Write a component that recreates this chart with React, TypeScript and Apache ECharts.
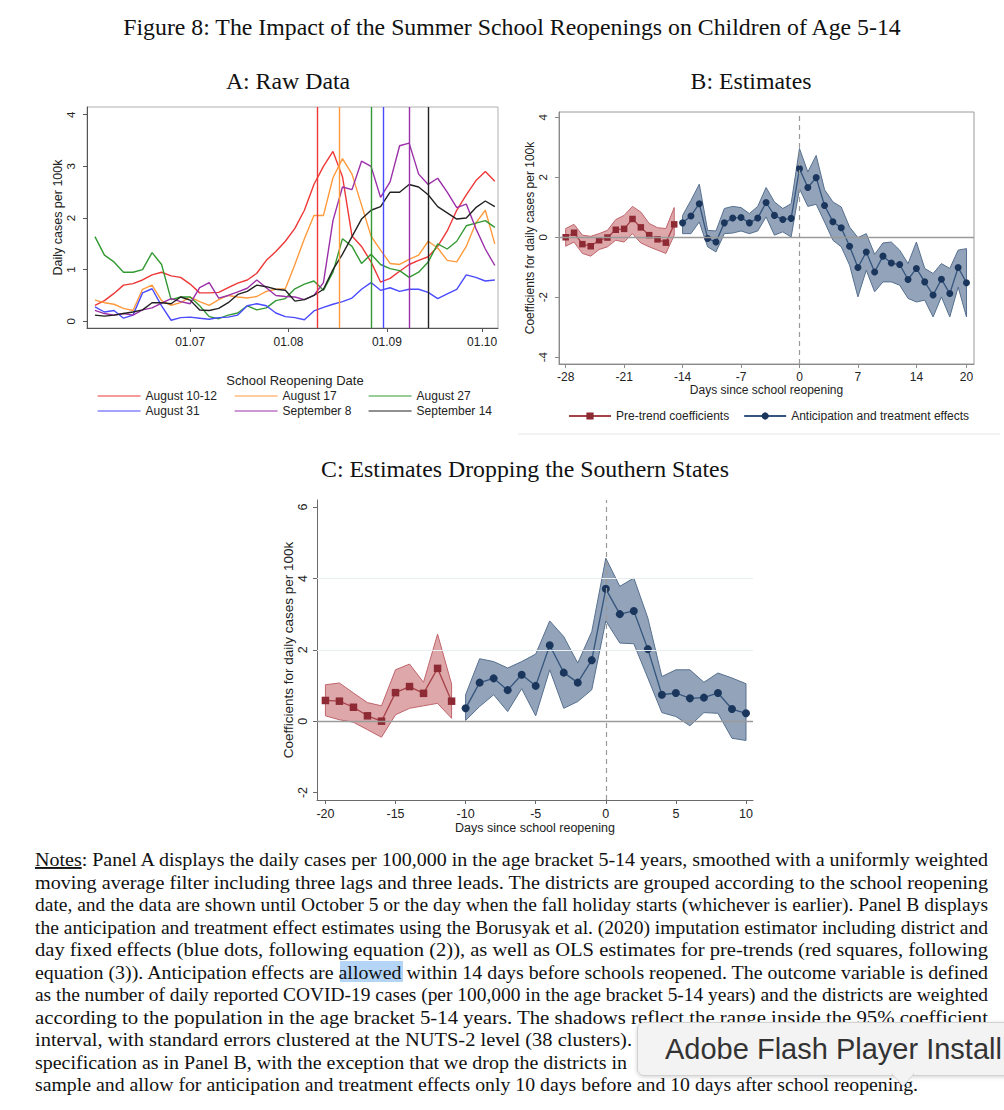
import React, { useEffect, useRef } from "react";
import * as echarts from "echarts";

// ---------- Panel A: raw data (days since June 1, every 3 days) ----------
const aDays = [0, 3, 6, 9, 12, 15, 18, 21, 24, 27, 30, 33, 36, 39, 42, 45, 48, 51, 54, 57, 60, 63, 66, 69, 72, 75, 78, 81, 84, 87, 90, 93, 96, 99, 102, 105, 108, 111, 114, 117, 120, 123, 126];
const aAug10 = [0.31, 0.40, 0.54, 0.70, 0.73, 0.80, 0.90, 0.95, 0.88, 0.85, 0.72, 0.55, 0.55, 0.56, 0.65, 0.74, 0.80, 0.93, 1.18, 1.35, 1.55, 1.80, 2.15, 2.65, 3.00, 3.29, 2.80, 1.65, 1.45, 1.15, 0.76, 0.83, 0.97, 1.10, 1.18, 1.25, 1.45, 1.75, 2.15, 2.45, 2.72, 2.90, 2.71];
const aAug17 = [0.41, 0.36, 0.33, 0.25, 0.21, 0.62, 0.70, 0.40, 0.31, 0.36, 0.47, 0.38, 0.31, 0.42, 0.50, 0.47, 0.45, 0.48, 0.58, 0.62, 0.63, 1.10, 1.60, 2.05, 2.05, 2.78, 3.15, 2.85, 2.25, 1.65, 1.38, 1.12, 1.10, 1.20, 1.28, 1.55, 1.42, 1.18, 1.15, 1.45, 1.90, 2.15, 1.50];
const aAug27 = [1.64, 1.28, 1.15, 0.95, 0.95, 1.00, 1.33, 1.10, 0.42, 0.47, 0.47, 0.30, 0.09, 0.05, 0.12, 0.16, 0.30, 0.22, 0.26, 0.40, 0.44, 0.63, 0.72, 0.78, 0.60, 0.95, 1.60, 1.45, 1.12, 1.30, 1.10, 1.02, 0.98, 0.85, 0.95, 1.15, 1.50, 1.40, 1.55, 1.85, 1.90, 1.95, 1.82];
const aAug31 = [0.28, 0.18, 0.21, 0.06, 0.12, 0.55, 0.63, 0.30, 0.02, 0.07, 0.08, 0.06, 0.04, 0.07, 0.08, 0.12, 0.30, 0.34, 0.30, 0.16, 0.09, 0.07, 0.03, 0.20, 0.27, 0.33, 0.38, 0.45, 0.62, 0.75, 0.60, 0.65, 0.58, 0.62, 0.62, 0.56, 0.44, 0.53, 0.62, 0.90, 0.85, 0.78, 0.80];
const aSep8 = [0.21, 0.15, 0.12, 0.15, 0.12, 0.22, 0.26, 0.35, 0.44, 0.38, 0.34, 0.65, 0.75, 0.45, 0.50, 0.57, 0.64, 0.80, 0.65, 0.50, 0.48, 0.47, 0.42, 0.50, 0.75, 1.95, 2.60, 2.55, 3.10, 3.00, 2.40, 2.70, 3.40, 3.45, 2.85, 2.65, 2.77, 2.50, 2.20, 2.27, 1.80, 1.40, 1.08];
const aSep14 = [0.12, 0.10, 0.12, 0.15, 0.18, 0.22, 0.36, 0.36, 0.34, 0.47, 0.41, 0.22, 0.21, 0.25, 0.36, 0.52, 0.58, 0.70, 0.67, 0.62, 0.60, 0.39, 0.42, 0.50, 0.62, 1.00, 1.30, 1.64, 1.98, 2.15, 2.22, 2.50, 2.50, 2.65, 2.60, 2.45, 2.22, 2.10, 1.98, 2.00, 2.20, 2.33, 2.22];
const aNames = ["August 10-12", "August 17", "August 27", "August 31", "September 8", "September 14"];
const aColors = ["#ee3838", "#ff9a3c", "#339933", "#4a4aff", "#9b30a8", "#222222"];
const aReopenDays = [70, 77, 87, 91, 99, 105];
const aTickDays = [30, 61, 92, 122];
const aTickLabels = ["01.07", "01.08", "01.09", "01.10"];
const aYTicks = [0, 1, 2, 3, 4];

// ---------- Panel B: estimates ----------
const bPreDays = [-28, -27, -26, -25, -24, -23, -22, -21, -20, -19, -18, -17, -16, -15];
const bPre = [0.0, 0.15, -0.23, -0.3, -0.1, -0.01, 0.25, 0.28, 0.61, 0.33, 0.07, -0.07, -0.18, 0.43];
const bPreHi = [0.29, 0.43, 0.07, 0.03, 0.12, 0.23, 0.59, 0.73, 1.03, 0.84, 0.46, 0.32, 0.29, 0.99];
const bPreLo = [-0.3, -0.16, -0.54, -0.63, -0.41, -0.32, -0.1, -0.16, 0.12, -0.19, -0.32, -0.43, -0.54, 0.07];
const bDays = [-14, -13, -12, -11, -10, -9, -8, -7, -6, -5, -4, -3, -2, -1, 0, 1, 2, 3, 4, 5, 6, 7, 8, 9, 10, 11, 12, 13, 14, 15, 16, 17, 18, 19, 20];
const bEst = [0.48, 0.71, 1.12, -0.04, -0.16, 0.48, 0.64, 0.66, 0.48, 0.64, 1.16, 0.73, 0.59, 0.63, 2.29, 1.66, 1.99, 1.06, 0.52, 0.32, -0.3, -1.01, -0.49, -1.16, -0.63, -0.86, -0.91, -1.41, -1.04, -1.49, -1.93, -1.4, -1.88, -1.01, -1.52];
const bHi = [0.73, 1.23, 1.77, 0.23, 0.21, 0.96, 1.03, 0.99, 0.79, 1.03, 1.66, 1.18, 0.96, 1.12, 2.96, 2.18, 2.73, 1.59, 1.18, 1.01, 0.34, -0.01, 0.12, -0.57, -0.19, -0.16, -0.43, -0.88, -0.16, -1.04, -1.21, -0.88, -1.04, -0.43, -0.38];
const bLo = [0.12, 0.12, 0.51, -0.32, -0.49, 0.12, 0.14, 0.21, 0.12, 0.21, 0.68, 0.07, 0.18, 0.01, 1.62, 1.03, 1.1, 0.51, -0.1, -0.32, -0.93, -1.99, -1.1, -1.82, -1.49, -1.49, -1.6, -2.04, -2.16, -2.1, -2.66, -1.99, -2.66, -1.66, -2.66];
const bXTicks = [-28, -21, -14, -7, 0, 7, 14, 20];
const bYTicks = [-4, -2, 0, 2, 4];

// ---------- Panel C: estimates dropping the southern states ----------
const cPreDays = [-20, -19, -18, -17, -16, -15, -14, -13, -12, -11];
const cPre = [0.58, 0.56, 0.39, 0.15, 0.0, 0.8, 0.97, 0.78, 1.48, 0.56];
const cPreHi = [1.02, 1.07, 0.79, 0.52, 0.43, 1.44, 1.6, 1.09, 2.44, 1.04];
const cPreLo = [0.15, 0.04, -0.03, -0.24, -0.45, 0.18, 0.36, 0.43, 0.5, 0.08];
const cDays = [-10, -9, -8, -7, -6, -5, -4, -3, -2, -1, 0, 1, 2, 3, 4, 5, 6, 7, 8, 9, 10];
const cEst = [0.36, 1.08, 1.2, 0.87, 1.3, 0.99, 2.13, 1.36, 1.08, 1.71, 3.71, 3.0, 3.09, 2.02, 0.74, 0.79, 0.64, 0.66, 0.79, 0.34, 0.22];
const cHi = [0.74, 1.75, 1.67, 1.49, 1.67, 1.88, 2.81, 2.37, 1.63, 2.51, 4.57, 3.78, 4.01, 2.89, 1.25, 1.44, 1.44, 1.09, 1.35, 1.21, 1.05];
const cLo = [0.02, 0.41, 0.74, 0.27, 0.91, 0.15, 1.44, 0.36, 0.55, 0.88, 2.81, 2.19, 2.17, 1.21, 0.24, 0.13, -0.13, 0.24, 0.22, -0.48, -0.54];
const cXTicks = [-20, -15, -10, -5, 0, 5, 10];
const cYTicks = [-2, 0, 2, 4, 6];
const cGridLines = [2, 4];

// ---------- Texts ----------
const figTitle = "Figure 8: The Impact of the Summer School Reopenings on Children of Age 5-14";
const titleA = "A: Raw Data";
const titleB = "B: Estimates";
const titleC = "C: Estimates Dropping the Southern States";
const legendTitleA = "School Reopening Date";
const preName = "Pre-trend coefficients";
const estName = "Anticipation and treatment effects";
const yNameA = "Daily cases per 100k";
const yNameBC = "Coefficients for daily cases per 100k";
const xNameBC = "Days since school reopening";
const notesFirstRest = ": Panel A displays the daily cases per 100,000 in the age bracket 5-14 years, smoothed with a uniformly weighted";
const notesLines = [
  "moving average filter including three lags and three leads. The districts are grouped according to the school reopening",
  "date, and the data are shown until October 5 or the day when the fall holiday starts (whichever is earlier). Panel B displays",
  "the anticipation and treatment effect estimates using the Borusyak et al. (2020) imputation estimator including district and",
  "day fixed effects (blue dots, following equation (2)), as well as OLS estimates for pre-trends (red squares, following",
  "equation (3)). Anticipation effects are allowed within 14 days before schools reopened. The outcome variable is defined",
  "as the number of daily reported COVID-19 cases (per 100,000 in the age bracket 5-14 years) and the districts are weighted",
  "according to the population in the age bracket 5-14 years. The shadows reflect the range inside the 95% coefficient",
  "interval, with standard errors clustered at the NUTS-2 level (38 clusters).",
  "specification as in Panel B, with the exception that we drop the districts in",
  "sample and allow for anticipation and treatment effects only 10 days before and 10 days after school reopening.",
];
const notesWidths = [953, 953, 953, 953, 953, 953, 953, 597, 592, 883];
const popupText = "Adobe Flash Player Install";

const sans = '"Liberation Sans", Arial, Helvetica, sans-serif';
const serif = '"Liberation Serif", "Times New Roman", serif';

const pairs = (xs: number[], ys: number[]) => xs.map((x, i) => [x, ys[i]]);

function band(xi: number, xs: number[], hi: number[], lo: number[], fill: string, stroke: string) {
  return {
    type: "custom",
    coordinateSystem: "cartesian2d",
    xAxisIndex: xi,
    yAxisIndex: xi,
    silent: true,
    z: 1,
    data: [[xs[0], hi[0]]],
    renderItem: (_p: any, api: any) => {
      const pts: number[][] = [];
      for (let i = 0; i < xs.length; i++) pts.push(api.coord([xs[i], hi[i]]));
      for (let i = xs.length - 1; i >= 0; i--) pts.push(api.coord([xs[i], lo[i]]));
      return { type: "polygon", shape: { points: pts }, style: { fill, stroke, lineWidth: 1 } };
    },
  };
}

function xAxisDef(gi: number, min: number, max: number, ticks: number[], opts: any) {
  return {
    type: "value",
    gridIndex: gi,
    min,
    max,
    axisLine: { show: true, onZero: false, lineStyle: { color: opts.axisColor, width: 1 } },
    axisTick: { show: true, customValues: ticks, length: 4, lineStyle: { color: opts.axisColor } },
    axisLabel: {
      customValues: ticks,
      formatter: opts.formatter,
      fontSize: opts.fontSize,
      fontFamily: sans,
      color: "#222",
      margin: opts.margin,
    },
    splitLine: { show: false },
    name: opts.name,
    nameLocation: "middle",
    nameGap: opts.nameGap,
    nameTextStyle: { fontSize: opts.nameSize || opts.fontSize, fontFamily: sans, color: "#222" },
  };
}

function yAxisDef(gi: number, min: number, max: number, ticks: number[], opts: any) {
  return {
    type: "value",
    gridIndex: gi,
    min,
    max,
    axisLine: { show: true, onZero: false, lineStyle: { color: opts.axisColor, width: 1 } },
    axisTick: { show: true, customValues: ticks, length: 4, lineStyle: { color: opts.axisColor } },
    axisLabel: {
      customValues: ticks,
      rotate: 90,
      fontSize: opts.fontSize,
      fontFamily: sans,
      color: "#222",
      margin: opts.margin,
    },
    splitLine: { show: false },
    name: opts.name,
    nameLocation: "middle",
    nameRotate: 90,
    nameGap: opts.nameGap,
    nameTextStyle: { fontSize: opts.nameSize || opts.fontSize, fontFamily: sans, color: "#222" },
  };
}

const preMarker = "#8e2a33";
const preLine = "#a8424a";
const estMarker = "#1b365c";
const estLine = "#34557e";
const preFill = "rgba(176,48,56,0.42)";
const preStroke = "#c0646b";
const estFill = "rgba(30,62,108,0.48)";
const estStroke = "#56708f";

function buildOption() {
  const aSeriesVals = [aAug10, aAug17, aAug27, aAug31, aSep8, aSep14];
  const aSeries = aSeriesVals.map((vals, k) => ({
    type: "line",
    name: aNames[k],
    xAxisIndex: 0,
    yAxisIndex: 0,
    data: pairs(aDays, vals),
    showSymbol: false,
    symbol: "none",
    color: aColors[k],
    lineStyle: { color: aColors[k], width: 1.4 },
    z: 3,
    markLine: {
      silent: true,
      symbol: "none",
      label: { show: false },
      lineStyle: { color: aColors[k], width: 1.4, type: "solid" },
      data: [{ xAxis: aReopenDays[k] }],
    },
  }));

  const estLineSeries = (xi: number, name: string, xs: number[], ys: number[], extraMarks: any[]) => ({
    type: "line",
    name,
    xAxisIndex: xi,
    yAxisIndex: xi,
    data: pairs(xs, ys),
    symbol: "circle",
    symbolSize: 7,
    color: estMarker,
    itemStyle: { color: estMarker },
    lineStyle: { color: estLine, width: 1.3 },
    z: 4,
    markLine: {
      silent: true,
      symbol: "none",
      label: { show: false },
      data: extraMarks,
    },
  });

  const preLineSeries = (xi: number, xs: number[], ys: number[]) => ({
    type: "line",
    name: preName,
    xAxisIndex: xi,
    yAxisIndex: xi,
    data: pairs(xs, ys),
    symbol: "rect",
    symbolSize: 6.5,
    color: preMarker,
    itemStyle: { color: preMarker },
    lineStyle: { color: preLine, width: 1.3 },
    z: 4,
  });

  const zeroMarks = [
    { yAxis: 0, lineStyle: { color: "#9a9a9a", width: 1.3, type: "solid" } },
    { xAxis: 0, lineStyle: { color: "#9a9a9a", width: 1.2, type: [5, 4] } },
  ];
  const cMarks = [
    ...cGridLines.map((v) => ({ yAxis: v, lineStyle: { color: "#e6eef0", width: 1, type: "solid" } })),
    ...zeroMarks,
  ];

  const legText = { fontSize: 12, fontFamily: sans, color: "#222" };
  const aLeg = (names: string[], left: number) => ({
    data: names,
    orient: "vertical",
    left,
    top: 385,
    itemWidth: 43,
    itemHeight: 12,
    itemGap: 3,
    textStyle: legText,
    selectedMode: false,
    itemStyle: { opacity: 0 },
    lineStyle: { width: 1.2 },
  });

  return {
    animation: false,
    backgroundColor: "#ffffff",
    grid: [
      { left: 87, top: 107, width: 411, height: 221, show: true, borderColor: "#b0b0b0", borderWidth: 1, containLabel: false },
      { left: 559, top: 112, width: 415, height: 252, show: true, borderColor: "#9a9a9a", borderWidth: 1, containLabel: false },
      { left: 317, top: 500, width: 436, height: 300, show: false, containLabel: false },
    ],
    xAxis: [
      xAxisDef(0, -2.5, 127, aTickDays, {
        axisColor: "#555",
        fontSize: 12,
        margin: 8,
        formatter: (v: number) => {
          const i = aTickDays.indexOf(Math.round(v));
          return i >= 0 ? aTickLabels[i] : "";
        },
        name: "",
        nameGap: 20,
      }),
      xAxisDef(1, -28.8, 20.9, bXTicks, { axisColor: "#8a8a8a", fontSize: 12, margin: 7, name: xNameBC, nameGap: 19 }),
      xAxisDef(2, -20.6, 10.5, cXTicks, { axisColor: "#6a6a6a", fontSize: 12.5, margin: 7, name: xNameBC, nameGap: 21 }),
    ],
    yAxis: [
      yAxisDef(0, -0.13, 4.15, aYTicks, { axisColor: "#555", fontSize: 11.5, nameSize: 12.5, margin: 10, name: yNameA, nameGap: 19 }),
      yAxisDef(1, -4.23, 4.18, bYTicks, { axisColor: "#8a8a8a", fontSize: 11.5, nameSize: 12, margin: 10, name: yNameBC, nameGap: 20 }),
      yAxisDef(2, -2.21, 6.2, cYTicks, { axisColor: "#6a6a6a", fontSize: 12.5, nameSize: 13.5, margin: 8, name: yNameBC, nameGap: 21 }),
    ],
    legend: [
      aLeg([aNames[0], aNames[3]], 92),
      aLeg([aNames[1], aNames[4]], 229),
      aLeg([aNames[2], aNames[5]], 363),
      { data: [preName, estName], orient: "horizontal", left: 563, top: 405, itemWidth: 42, itemHeight: 9, itemGap: 14, textStyle: legText, selectedMode: false },
    ],
    graphic: [
      { type: "text", x: 512, y: 27, style: { text: figTitle, fontSize: 23.8, fontFamily: serif, fill: "#111", align: "center", verticalAlign: "middle" } },
      { type: "text", x: 288, y: 81, style: { text: titleA, fontSize: 23.8, fontFamily: serif, fill: "#111", align: "center", verticalAlign: "middle" } },
      { type: "text", x: 751, y: 81, style: { text: titleB, fontSize: 23.8, fontFamily: serif, fill: "#111", align: "center", verticalAlign: "middle" } },
      { type: "text", x: 525, y: 469, style: { text: titleC, fontSize: 23.8, fontFamily: serif, fill: "#111", align: "center", verticalAlign: "middle" } },
      { type: "text", x: 295, y: 380, style: { text: legendTitleA, fontSize: 13, fontFamily: sans, fill: "#222", align: "center", verticalAlign: "middle" } },
      { type: "line", shape: { x1: 518, y1: 434, x2: 1000, y2: 434 }, style: { stroke: "#e6e6e6", lineWidth: 1 } },
    ],
    series: [
      ...aSeries,
      band(1, bPreDays, bPreHi, bPreLo, preFill, preStroke),
      band(1, bDays, bHi, bLo, estFill, estStroke),
      preLineSeries(1, bPreDays, bPre),
      estLineSeries(1, estName, bDays, bEst, zeroMarks),
      band(2, cPreDays, cPreHi, cPreLo, preFill, preStroke),
      band(2, cDays, cHi, cLo, estFill, estStroke),
      { ...preLineSeries(2, cPreDays, cPre), name: preName + " C", symbolSize: 7.5 },
      { ...estLineSeries(2, estName + " C", cDays, cEst, cMarks), symbolSize: 8 },
    ],
  };
}

export default function App() {
  const ref = useRef<HTMLDivElement>(null);
  useEffect(() => {
    const chart = echarts.init(ref.current as HTMLDivElement, undefined, { renderer: "svg", width: 1004, height: 1110 });
    chart.setOption(buildOption() as any);
    return () => chart.dispose();
  }, []);

  const lineTop = 866;
  const lineStep = 22.5;
  return (
    <div style={{ position: "absolute", left: 0, top: 0, width: 1004, height: 1110, overflow: "hidden", background: "#fff" }}>
      <div ref={ref} style={{ position: "absolute", left: 0, top: 0, width: 1004, height: 1110 }} />
      <svg width={1004} height={1110} style={{ position: "absolute", left: 0, top: 0, pointerEvents: "none" }}>
        <rect x={340} y={961} width={63} height={21} fill="#b5d5f7" />
        <text x={35} y={lineTop} fontFamily={serif} fontSize={19} fill="#111" textLength={953} lengthAdjust="spacingAndGlyphs">
          <tspan style={{ textDecoration: "underline" }}>Notes</tspan>
          {notesFirstRest}
        </text>
        {notesLines.map((t, i) => (
          <text
            key={i}
            x={35}
            y={lineTop + (i + 1) * lineStep}
            fontFamily={serif}
            fontSize={19}
            fill="#111"
            textLength={notesWidths[i]}
            lengthAdjust="spacingAndGlyphs"
          >
            {t}
          </text>
        ))}
      </svg>
      <div
        style={{
          position: "absolute",
          left: 637,
          top: 1022,
          width: 400,
          height: 52,
          background: "#f3f3f3",
          border: "1px solid #d2d2d2",
          borderRadius: 7,
          boxShadow: "0 1px 4px rgba(0,0,0,0.18)",
          fontFamily: '"Liberation Sans", Arial, sans-serif',
          fontSize: 29,
          color: "#333",
          lineHeight: "52px",
          paddingLeft: 27,
          whiteSpace: "nowrap",
        }}
      >
        {popupText}
      </div>
      <svg width={30} height={16} style={{ position: "absolute", left: 892, top: 1073, pointerEvents: "none" }}>
        <polygon points="0,1 22,1 11,13" fill="#f3f3f3" stroke="#d2d2d2" strokeWidth={1} />
        <rect x={1} y={0} width={20} height={2} fill="#f3f3f3" />
      </svg>
    </div>
  );
}
